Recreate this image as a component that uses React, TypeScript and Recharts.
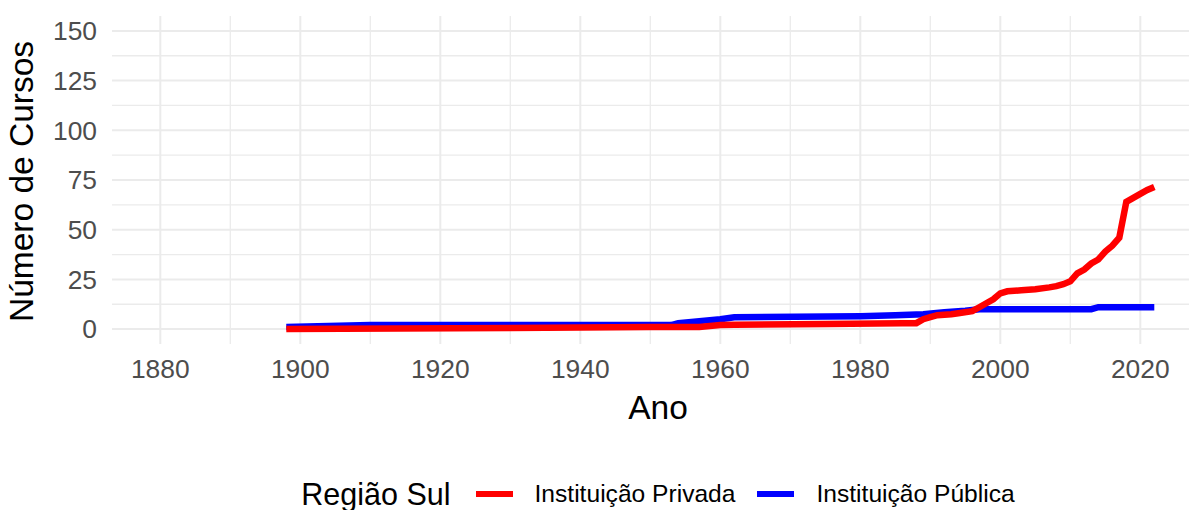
import React from 'react';
import { LineChart, Line, XAxis, YAxis, CartesianGrid, Label } from 'recharts';

const privadaYears = [1898, 1930, 1950, 1957, 1960, 1962, 1975, 1986, 1988, 1989, 1990, 1991, 1993, 1994, 1996, 1997, 1998, 1999, 2000, 2001, 2003, 2005, 2007, 2008, 2009, 2010, 2011, 2012, 2013, 2014, 2015, 2016, 2017, 2018, 2019, 2020, 2021, 2022];
const privadaValues = [0, 0.5, 1, 1, 2, 2.2, 2.6, 3, 3, 5, 6, 7, 7.5, 8, 9, 11, 13, 15, 18, 19, 19.5, 20, 21, 21.6, 22.6, 24, 28, 30, 33, 35, 39, 42, 46, 64, 66, 68, 70, 71.5];

const publicaYears = [1898, 1910, 1953, 1954, 1957, 1960, 1962, 1980, 1985, 1989, 1992, 1995, 1997, 2013, 2014, 2022];
const publicaValues = [1, 2, 2, 3, 4, 5, 6, 6.5, 7, 7.5, 8.5, 9.2, 10, 10, 11, 11];

const seriesNames = ['Instituição Privada', 'Instituição Pública'];
const seriesColors = ['#FF0000', '#0000FF'];
const legendTitle = 'Região Sul';

const xMajorTicks = [1880, 1900, 1920, 1940, 1960, 1980, 2000, 2020];
const xMinorTicks = [1890, 1910, 1930, 1950, 1970, 1990, 2010];
const yMajorTicks = [0, 25, 50, 75, 100, 125, 150];
const yMinorTicks = [12.5, 37.5, 62.5, 87.5, 112.5, 137.5];

const xDomain = [1873.1, 2029.1];
const yDomain = [-7.5, 157.5];

const privadaData = privadaYears.map((y, i) => ({ ano: y, valor: privadaValues[i] }));
const publicaData = publicaYears.map((y, i) => ({ ano: y, valor: publicaValues[i] }));

const FONT = '"Liberation Sans", Arial, Helvetica, sans-serif';
const GRID = '#EBEBEB';

const XTitle = (props: any) => {
  const vb = props.viewBox || { x: 112, y: 344, width: 1092, height: 80 };
  return (
    <text x={vb.x + vb.width / 2} y={vb.y + 75.3} textAnchor="middle" fontSize={33.5} fontFamily={FONT} fill="#000">
      Ano
    </text>
  );
};

const YTitle = (props: any) => {
  const vb = props.viewBox || { x: 0, y: 16, width: 112, height: 328 };
  const x = 33.3;
  const y = vb.y + vb.height / 2 + 1.5;
  return (
    <text x={x} y={y} transform={`rotate(-90, ${x}, ${y})`} textAnchor="middle" fontSize={33.5} fontFamily={FONT} fill="#000">
      Número de Cursos
    </text>
  );
};

export default function App() {
  return (
    <div style={{ position: 'absolute', left: 0, top: 0, width: 1189, height: 510, overflow: 'hidden', background: '#fff' }}>
      <LineChart width={1216} height={510} margin={{ top: 16, right: 12, bottom: 86, left: 0 }}>
        <CartesianGrid stroke={GRID} strokeWidth={1.3} horizontalValues={yMinorTicks} verticalValues={xMinorTicks} />
        <CartesianGrid stroke={GRID} strokeWidth={2} horizontalValues={yMajorTicks} verticalValues={xMajorTicks} />
        <XAxis
          dataKey="ano"
          type="number"
          domain={xDomain}
          ticks={xMajorTicks}
          allowDataOverflow
          axisLine={false}
          tickLine={false}
          tickSize={0}
          tickMargin={15}
          height={80}
          tick={{ fontSize: 26.4, fill: '#4D4D4D', fontFamily: FONT }}
          interval={0}
        >
          <Label content={<XTitle />} />
        </XAxis>
        <YAxis
          dataKey="valor"
          type="number"
          domain={yDomain}
          ticks={yMajorTicks}
          allowDataOverflow
          axisLine={false}
          tickLine={false}
          tickSize={0}
          tickMargin={15}
          width={112}
          tick={{ fontSize: 26.4, fill: '#4D4D4D', fontFamily: FONT }}
          interval={0}
        >
          <Label content={<YTitle />} />
        </YAxis>
        <Line data={publicaData} dataKey="valor" name={seriesNames[1]} type="linear" stroke={seriesColors[1]} strokeWidth={6.5} dot={false} activeDot={false} isAnimationActive={false} />
        <Line data={privadaData} dataKey="valor" name={seriesNames[0]} type="linear" stroke={seriesColors[0]} strokeWidth={6.5} dot={false} activeDot={false} isAnimationActive={false} />
      </LineChart>
      <div
        style={{
          position: 'absolute',
          left: 0,
          top: 474,
          width: 1316,
          height: 40,
          display: 'flex',
          alignItems: 'center',
          justifyContent: 'center',
          fontFamily: FONT,
          color: '#000',
        }}
      >
        <span style={{ fontSize: 30.5, marginRight: 25 }}>{legendTitle}</span>
        {seriesNames.map((n, i) => (
          <React.Fragment key={n}>
            <span style={{ display: 'inline-block', width: 37, height: 6, background: seriesColors[i], marginRight: 22 }} />
            <span style={{ fontSize: 24.6, marginRight: i === 0 ? 22 : 0 }}>{n}</span>
          </React.Fragment>
        ))}
      </div>
    </div>
  );
}
